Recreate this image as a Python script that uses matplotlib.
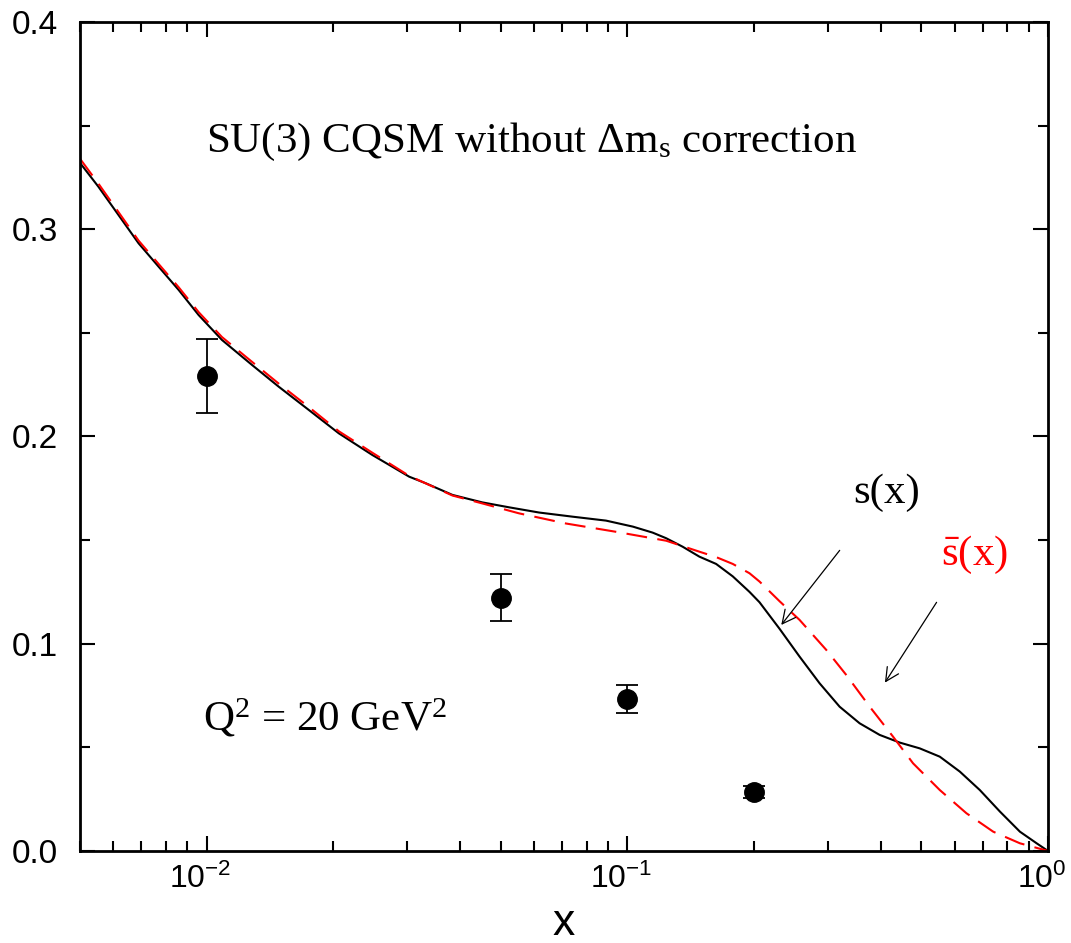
import matplotlib
matplotlib.use('Agg')
from matplotlib import pyplot as plt
from matplotlib.ticker import MultipleLocator, FormatStrFormatter, LogLocator
from matplotlib.transforms import ScaledTranslation
import numpy as np

plt.rcParams['font.family'] = ['Liberation Sans', 'DejaVu Sans']
plt.rcParams['mathtext.fontset'] = 'custom'
plt.rcParams['mathtext.rm'] = 'Liberation Serif'
plt.rcParams['mathtext.it'] = 'Liberation Serif:italic'

# s(x), solid black
x_s = [0.005, 0.00553, 0.00689, 0.00769, 0.00858, 0.00957, 0.01087, 0.01282, 0.01484,
       0.01749, 0.02062, 0.02475, 0.0303, 0.0332, 0.0384, 0.0452, 0.0524, 0.0617,
       0.0741, 0.0890, 0.1031, 0.1149, 0.1237, 0.1354, 0.1484, 0.1626, 0.1781,
       0.1952, 0.2062, 0.2301, 0.2567, 0.2865, 0.3197, 0.3567, 0.3980, 0.4442,
       0.4957, 0.5531, 0.6172, 0.6886, 0.7688, 0.8577, 0.9399, 1.0]
y_s = [0.332, 0.3205, 0.2932, 0.2819, 0.2707, 0.2586, 0.2466, 0.2345, 0.2240,
       0.2128, 0.2015, 0.1911, 0.1806, 0.1774, 0.1718, 0.1682, 0.1658, 0.1633,
       0.1613, 0.1594, 0.1565, 0.1536, 0.1509, 0.1468, 0.1420, 0.1385, 0.1325,
       0.1250, 0.1200, 0.1072, 0.0938, 0.0809, 0.0696, 0.0616, 0.0560, 0.0523,
       0.0495, 0.0455, 0.0383, 0.0294, 0.0190, 0.0093, 0.0037, 0.0]

# sbar(x), dashed red
x_sb = [0.005, 0.00553, 0.00689, 0.00769, 0.00858, 0.00957, 0.01087, 0.01282, 0.01484,
        0.01749, 0.02062, 0.02475, 0.0303, 0.0384, 0.0452, 0.0553, 0.0715, 0.0940,
        0.1237, 0.1484, 0.1626, 0.1781, 0.1952, 0.2062, 0.2301, 0.2567, 0.2972,
        0.3316, 0.3770, 0.4281, 0.4778, 0.5531, 0.6400, 0.7410, 0.8577, 1.0]
y_sb = [0.334, 0.3220, 0.2945, 0.2832, 0.2720, 0.2600, 0.2480, 0.2360, 0.2255,
        0.2142, 0.2025, 0.1922, 0.1810, 0.1715, 0.1677, 0.1629, 0.1580, 0.1540,
        0.1497, 0.1444, 0.1418, 0.1385, 0.1340, 0.1300, 0.1205, 0.1115, 0.0970,
        0.0849, 0.0696, 0.0552, 0.0423, 0.0294, 0.0182, 0.0093, 0.0037, 0.0]

# data points
x_pts = [0.01, 0.05, 0.1, 0.2]
y_pts = [0.2293, 0.1222, 0.0732, 0.0283]
err_pts = [0.0178, 0.0112, 0.0067, 0.0029]

fig = plt.figure(figsize=(10.71, 9.43), dpi=100)
ax = fig.add_axes([0.0747, 0.0976, 0.9038, 0.8791])

ax.plot(x_s, y_s, color='black', lw=1.5)
ax.plot(x_sb, y_sb, color='red', lw=1.5, dashes=(10, 5))
ax.errorbar(x_pts, y_pts, yerr=err_pts, fmt='o', color='black', ms=14,
            capsize=8, elinewidth=1.3, capthick=1.3)

ax.set_xscale('log')
ax.set_xlim(0.005, 1.0)
ax.set_ylim(0.0, 0.4)
ax.yaxis.set_major_locator(MultipleLocator(0.1))
ax.yaxis.set_minor_locator(MultipleLocator(0.05))
ax.yaxis.set_major_formatter(FormatStrFormatter('%.1f'))
ax.xaxis.set_minor_locator(LogLocator(base=10, subs=np.arange(2, 10)))

ax.tick_params(which='both', direction='in', top=True, right=True, width=1.5)
ax.tick_params(which='major', length=11, pad=9)
ax.tick_params(which='minor', length=7)
ax.tick_params(axis='x', which='major', labelsize=23)
ax.tick_params(axis='y', which='major', labelsize=24, pad=16)
for sp in ax.spines.values():
    sp.set_linewidth(2)

# x tick labels sit a little left of their ticks in the reference
shift = ScaledTranslation(-6 / 100, 0, fig.dpi_scale_trans)
for lab in ax.get_xticklabels():
    lab.set_transform(lab.get_transform() + shift)

ax.set_xlabel('x', fontsize=32, labelpad=6)

serif = 'Liberation Serif'
ax.text(0.467, 0.855, r'SU(3) CQSM without $\Delta\mathrm{m}_{\mathrm{s}}$ correction',
        transform=ax.transAxes, ha='center', va='center', fontsize=31, family=serif)
ax.text(0.253, 0.160, r'Q$^{2}$ = 20 GeV$^{2}$',
        transform=ax.transAxes, ha='center', va='center', fontsize=31, family=serif)
ax.text(0.4125, 0.1727, 's(x)', ha='center', va='center', fontsize=31, family=serif)
ax.text(0.668, 0.1428, r'$\bar{\mathrm{s}}$(x)', ha='center', va='center',
        fontsize=31, family=serif, color='red')

ax.annotate('', xy=(0.2301, 0.1080), xytext=(0.3228, 0.1461),
            arrowprops=dict(arrowstyle='->', lw=0.9, color='black', mutation_scale=24))
ax.annotate('', xy=(0.4063, 0.0801), xytext=(0.548, 0.1211),
            arrowprops=dict(arrowstyle='->', lw=0.9, color='black', mutation_scale=24))

fig.savefig('out.png', dpi=100)
